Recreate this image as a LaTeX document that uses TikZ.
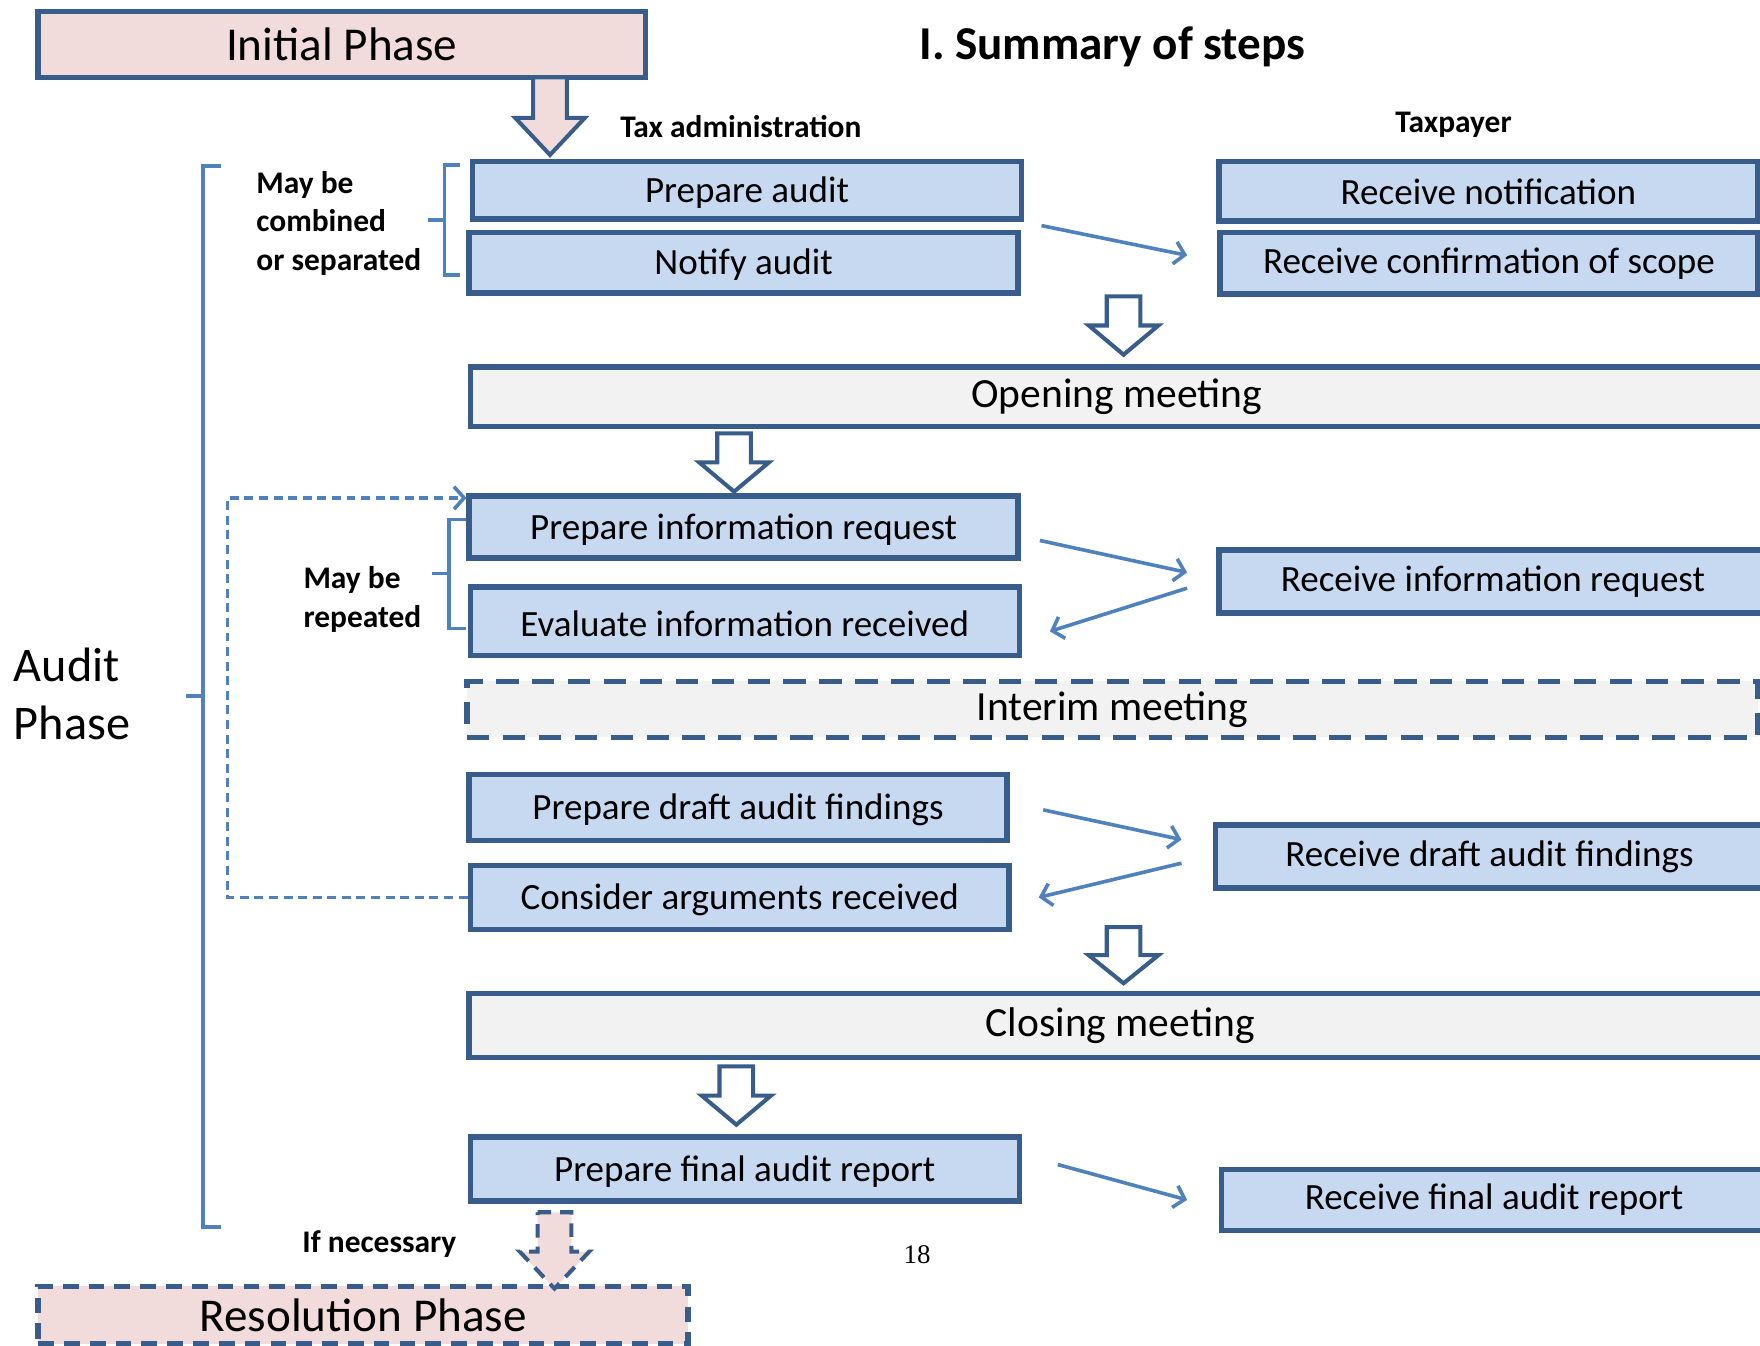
\documentclass[tikz,border=0pt]{standalone}
\usepackage{fontspec}
\setmainfont{Carlito}
\newfontfamily\serifnum{Liberation Serif}
\usetikzlibrary{arrows.meta,calc,fit}
\definecolor{bordblue}{RGB}{56,93,138}
\definecolor{boxblue}{RGB}{198,217,241}
\definecolor{pinkfill}{RGB}{242,220,219}
\definecolor{greyfill}{RGB}{242,242,242}
\definecolor{linkblue}{RGB}{79,129,189}
\tikzset{
 base/.style={draw=bordblue, line width=2.4pt, inner sep=0pt},
 stepbox/.style={base, fill=boxblue},
 meetbox/.style={base, fill=greyfill},
 phasebox/.style={base, fill=pinkfill},
 steptext/.style={font=\fontsize{16.5}{20}\selectfont, text=black, inner sep=0pt},
 meettext/.style={font=\fontsize{18.5}{22}\selectfont, text=black, inner sep=0pt},
 phasetext/.style={font=\fontsize{21}{25}\selectfont, text=black, inner sep=0pt},
 dashbox/.style={dash pattern=on 10pt off 6pt},
 msg/.style={draw=linkblue, line width=1.6pt, -{Straight Barb[length=4.5pt,width=10pt]}},
 brace/.style={draw=linkblue, line width=1.6pt},
 loopline/.style={draw=linkblue, line width=1.6pt, dash pattern=on 4pt off 2.5pt, -{Straight Barb[length=4.5pt,width=10pt]}},
 lbl/.style={font=\fontsize{14}{17.25}\selectfont\bfseries, align=left, inner sep=0pt},
 bigarr/.style={draw=bordblue, line width=1.8pt, fill=white, line join=miter},
}
\newcommand\blockarr[5]{%
 \draw[#1] (#2-15,#3) -- (#2+15,#3) -- (#2+15,#4) -- (#2+31,#4) -- (#2,#5) -- (#2-31,#4) -- (#2-15,#4) -- cycle;}
\begin{document}
\begin{tikzpicture}[x=0.5pt,y=-0.5pt]
\useasboundingbox (0,0) rectangle (1568,1199);
\clip (0,0) rectangle (1568,1199);
\fill[white] (0,0) rectangle (1568,1199);

% phase boxes
\node[phasebox, fit={(34,10) (575,69)}, label={[phasetext]center:Initial Phase}] (init) {};
\node[phasebox, dash pattern=on 7pt off 4.5pt, fit={(34,1146) (613,1197)}, label={[phasetext]center:Resolution Phase}] (res) {};

% titles
\node[font=\fontsize{21}{25}\selectfont\bfseries, inner sep=0pt] (title) at (991,42) {I. Summary of steps};
\node[lbl] (taxadm) at (660,113) {Tax administration};
\node[lbl] (taxpay) at (1295,111) {Taxpayer};

% step boxes - tax administration
\node[stepbox, fit={(421,144) (910,195)}, label={[steptext, yshift=-1pt]center:Prepare audit}] (pa) {};
\node[stepbox, fit={(418,207) (907,261)}, label={[steptext, yshift=-1pt]center:Notify audit}] (na) {};
\node[stepbox, fit={(418,442) (907,497)}, label={[steptext, yshift=-1pt]center:Prepare information request}] (pir) {};
\node[stepbox, fit={(419,523) (908,584)}, label={[steptext, yshift=-1pt]center:Evaluate information received}] (eir) {};
\node[stepbox, fit={(418,690) (897,749)}, label={[steptext, yshift=-1pt]center:Prepare draft audit findings}] (pdf) {};
\node[stepbox, fit={(419,771) (899,828)}, label={[steptext, yshift=-1pt]center:Consider arguments received}] (car) {};
\node[stepbox, fit={(419,1013) (908,1070)}, label={[steptext, yshift=-1pt]center:Prepare final audit report}] (pfr) {};

% step boxes - taxpayer
\node[stepbox, fit={(1086,144) (1566,197)}, label={[steptext]center:Receive notification}] (rn) {};
\node[stepbox, fit={(1087,207) (1566,262)}, label={[steptext]center:Receive confirmation of scope}] (rc) {};
\node[stepbox, fit={(1086,490) (1574,546)}, label={[steptext]center:Receive information request}] (rir) {};
\node[stepbox, fit={(1083,735) (1571,791)}, label={[steptext]center:Receive draft audit findings}] (rdf) {};
\node[stepbox, fit={(1088,1042) (1574,1096)}, label={[steptext]center:Receive final audit report}] (rfr) {};

% meetings
\node[meetbox, fit={(419,327) (1571,380)}, label={[meettext]center:Opening meeting}] (om) {};
\node[meetbox, dashbox, fit={(416,607) (1566,657)}, label={[meettext]center:Interim meeting}] (im) {};
\node[meetbox, fit={(418,885) (1578,942)}, label={[meettext]center:Closing meeting}] (cm) {};

% block arrows
\blockarr{bigarr, fill=pinkfill}{490}{69}{105}{138}
\blockarr{bigarr}{1001}{264}{290}{316}
\blockarr{bigarr}{654}{386}{412}{438}
\blockarr{bigarr}{1001}{826}{851}{876}
\blockarr{bigarr}{656}{950}{976}{1002}
\blockarr{bigarr, fill=pinkfill, dash pattern=on 6pt off 4pt}{494}{1080}{1115}{1148}

% message arrows
\draw[msg] ($(pa.south east)!0.5!(na.north east)+(17,0)$) -- ($(rc.west)+(-27,-7)$);
\draw[msg] ($(pir.east)+(17,12)$) -- ($(rir.west)+(-26,-8)$);
\draw[msg] ($(rir.west)+(-26,6)$) -- ($(eir.east)+(25,9)$);
\draw[msg] ($(pdf.east)+(30,2)$) -- ($(rdf.west)+(-28,-15)$);
\draw[msg] ($(rdf.west)+(-28,6)$) -- ($(car.east)+(24,0)$);
\draw[msg] ($(pfr.east)+(32,-4)$) -- ($(rfr.west)+(-28,0)$);

% repeat loop
\draw[loopline] (car.west) -- ++(-214,0) |- ($(pir.north west)+(0,4)$);

% braces
\draw[brace] (197,148) -| (181,1093) -- (197,1093);
\draw[brace] (181,620) -- (166,620);
\draw[brace] (410,147) -| (396,245) -- (410,245);
\draw[brace] (396,196) -- (381,196);
\draw[brace] (415,463) -| (400,560) -- (415,560);
\draw[brace] (400,511) -- (385,511);

% labels
\node[lbl, anchor=west] (comb) at (228,199) {May be\\combined\\or separated};
\node[lbl, anchor=west] (rep) at (270,534) {May be\\repeated};
\node[font=\fontsize{21.5}{26}\selectfont, align=left, inner sep=0pt, anchor=west] (audit) at (12,618) {Audit\\Phase};
\node[lbl] (ifnec) at (338,1108) {If necessary};
\node[font=\serifnum\fontsize{12}{14}\selectfont, inner sep=0pt] (pg) at (817,1118) {18};
\end{tikzpicture}
\end{document}
